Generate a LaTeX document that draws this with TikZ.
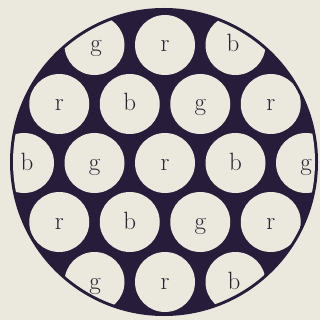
\documentclass[tikz,border=0pt]{standalone}
\definecolor{paper}{HTML}{EBE8DD}
\definecolor{navy}{HTML}{271D3A}
\definecolor{ink}{HTML}{2A2433}
\begin{document}
\begin{tikzpicture}[x=1pt,y=-1pt,
  hole/.style={fill=paper},
  lab/.style={text=ink,anchor=base,inner sep=0pt,font=\fontsize{25}{30}\selectfont}]
\fill[paper] (0,0) rectangle (320,320);
\useasboundingbox (0,0) rectangle (320,320);
\fill[navy] (164,162) circle[radius=154];
\begin{scope}
\clip (164,162) circle[radius=151];
\foreach \x/\y/\l/\n in {
  94.5/45/g/a1, 165/45/r/a2, 235.5/45/b/a3,
  59.25/104/r/b1, 129.75/104/b/b2, 200.25/104/g/b3, 270.75/104/r/b4,
  24/163/b/c1, 94.5/163/g/c2, 165/163/r/c3, 235.5/163/b/c4, 306/163/g/c5,
  59.25/222/r/d1, 129.75/222/b/d2, 200.25/222/g/d3, 270.75/222/r/d4,
  94.5/282/g/e1, 165/282/r/e2, 235.5/282/b/e3}{
  \fill[hole] (\x,\y) circle[radius=30];
}
\end{scope}
\foreach \x/\y/\l/\n in {
  96/45/g/a1, 165/45/r/a2, 233/45/b/a3,
  59.25/104/r/b1, 129.75/104/b/b2, 200.25/104/g/b3, 270.75/104/r/b4,
  27/163/b/c1, 94.5/163/g/c2, 165/163/r/c3, 235.5/163/b/c4, 306/163/g/c5,
  59.25/222/r/d1, 129.75/222/b/d2, 200.25/222/g/d3, 270.75/222/r/d4,
  95/282/g/e1, 165/282/r/e2, 234/282/b/e3}{
  \node[lab] (t\n) at (\x,\y+7) {\l};
}
\end{tikzpicture}
\end{document}
